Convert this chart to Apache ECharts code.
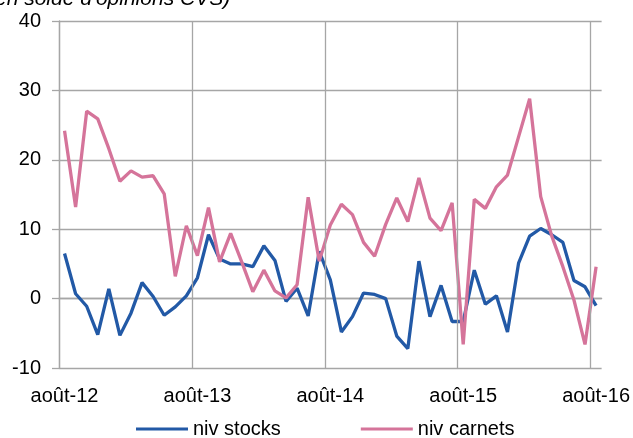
<!DOCTYPE html>
<html>
<head>
<meta charset="utf-8">
<script src="https://cdn.jsdelivr.net/npm/echarts@6/dist/echarts.min.js"></script>
<style>
html,body{margin:0;padding:0;background:#fff;}
#chart{width:633px;height:438px;}
</style>
</head>
<body>
<div id="chart"></div>
<script>
const months = [
  'août-12','sept-12','oct-12','nov-12','déc-12','janv-13','févr-13','mars-13','avr-13','mai-13','juin-13','juil-13',
  'août-13','sept-13','oct-13','nov-13','déc-13','janv-14','févr-14','mars-14','avr-14','mai-14','juin-14','juil-14',
  'août-14','sept-14','oct-14','nov-14','déc-14','janv-15','févr-15','mars-15','avr-15','mai-15','juin-15','juil-15',
  'août-15','sept-15','oct-15','nov-15','déc-15','janv-16','févr-16','mars-16','avr-16','mai-16','juin-16','juil-16',
  'août-16'
];
const nivStocks = [
  6.5, 0.7, -1.1, -5.2, 1.4, -5.3, -2.1, 2.3, 0.3, -2.4, -1.2, 0.4,
  3.0, 9.2, 5.7, 5.0, 5.0, 4.6, 7.6, 5.5, -0.4, 1.5, -2.5, 6.8,
  2.7, -4.8, -2.6, 0.8, 0.6, 0.0, -5.4, -7.2, 5.4, -2.6, 1.9, -3.3,
  -3.3, 4.1, -0.8, 0.4, -4.8, 5.1, 9.0, 10.1, 9.2, 8.1, 2.6, 1.7, -1.0
];
const nivCarnets = [
  24.2, 13.2, 27.0, 25.9, 21.6, 16.9, 18.4, 17.5, 17.7, 15.1, 3.2, 10.5,
  6.2, 13.1, 5.3, 9.4, 5.3, 1.0, 4.1, 1.1, 0.1, 2.0, 14.6, 5.4,
  10.6, 13.6, 12.1, 8.1, 6.1, 10.7, 14.5, 11.1, 17.4, 11.6, 9.8, 13.8,
  -6.6, 14.3, 13.0, 16.1, 17.8, 23.3, 28.8, 14.7, 9.0, 4.6, -0.2, -6.6, 4.6
];
const seriesNames = ['niv stocks', 'niv carnets'];
const subtitle = "(en solde d'opinions CVS)";
// month boundaries where the yearly vertical grid lines sit (start of each août bin)
const yearBoundaries = [0, 12, 24, 36, 48];

const FONT = '"Liberation Sans", Arial, sans-serif';
const GRID = '#a6a6a6';

const chart = echarts.init(document.getElementById('chart'), null, {renderer: 'canvas'});
chart.setOption({
  animation: false,
  backgroundColor: '#ffffff',
  graphic: [{
    type: 'text',
    left: -12,
    top: -11,
    style: {
      text: subtitle,
      font: 'italic 21px ' + FONT,
      fill: '#000'
    }
  }],
  grid: {left: 59, right: 31, top: 21, bottom: 70, containLabel: false},
  legend: {
    data: seriesNames,
    left: 131,
    top: 414,
    icon: 'rect',
    itemWidth: 52,
    itemHeight: 3,
    itemGap: 80,
    textStyle: {fontFamily: FONT, fontSize: 20, color: '#000'}
  },
  xAxis: [{
    type: 'category',
    data: months,
    boundaryGap: true,
    axisLine: {show: true, lineStyle: {color: GRID, width: 1.3}},
    axisTick: {show: false},
    axisLabel: {interval: 11, margin: 18, fontFamily: FONT, fontSize: 20, color: '#000'},
    splitLine: {show: false}
  }, {
    type: 'value',
    min: 0,
    max: months.length,
    show: false,
    splitLine: {show: false}
  }],
  yAxis: {
    type: 'value',
    min: -10,
    max: 40,
    interval: 10,
    axisLine: {show: true, lineStyle: {color: GRID, width: 1.3}},
    axisTick: {show: true, length: 7, lineStyle: {color: GRID, width: 1.3}},
    axisLabel: {margin: 18, fontFamily: FONT, fontSize: 20, color: '#000'},
    splitLine: {show: true, lineStyle: {color: GRID, width: 1.3}}
  },
  series: [
    {
      name: 'grid-years',
      type: 'line',
      xAxisIndex: 1,
      data: [],
      z: 1,
      silent: true,
      markLine: {
        silent: true,
        symbol: 'none',
        label: {show: false},
        lineStyle: {color: GRID, width: 1.3, type: 'solid'},
        data: yearBoundaries.map(function (v) { return {xAxis: v}; })
      }
    },
    {
      name: seriesNames[0],
      type: 'line',
      data: nivStocks,
      symbol: 'none',
      z: 3,
      color: '#2259a6',
      lineStyle: {width: 3.3, color: '#2259a6'}
    },
    {
      name: seriesNames[1],
      type: 'line',
      data: nivCarnets,
      symbol: 'none',
      z: 3,
      color: '#d5749a',
      lineStyle: {width: 3.3, color: '#d5749a'}
    }
  ]
});
</script>
</body>
</html>
